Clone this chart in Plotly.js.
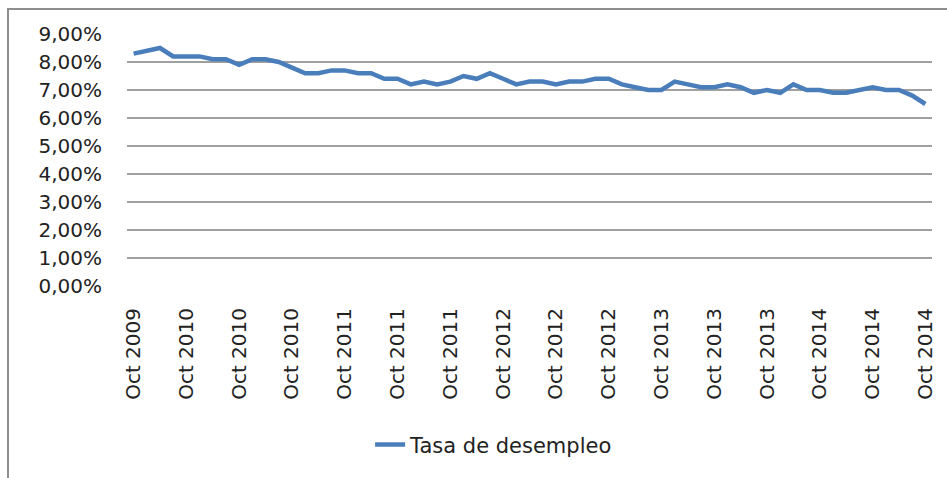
<!DOCTYPE html>
<html>
<head>
<meta charset="utf-8">
<script src="https://cdn.plot.ly/plotly-3.0.1.min.js"></script>
<style>
  html, body { margin: 0; padding: 0; background: #fff; overflow: hidden; }
  #chart { position: absolute; left: 0; top: 0; width: 947px; height: 478px; }
  #frame { position: absolute; left: 7px; top: 8px; width: 1000px; height: 600px;
           border: 2px solid #8e8e8e; pointer-events: none; z-index: 10; }
</style>
</head>
<body>
<div id="chart"></div>
<div id="frame"></div>
<script>
// Unemployment rate (%), monthly, 61 points
const seriesName = "Tasa de desempleo";
const values = [
  8.3, 8.4, 8.5, 8.2, 8.2, 8.2, 8.1, 8.1, 7.9, 8.1, 8.1, 8.0, 7.8, 7.6, 7.6,
  7.7, 7.7, 7.6, 7.6, 7.4, 7.4, 7.2, 7.3, 7.2, 7.3, 7.5, 7.4, 7.6, 7.4, 7.2,
  7.3, 7.3, 7.2, 7.3, 7.3, 7.4, 7.4, 7.2, 7.1, 7.0, 7.0, 7.3, 7.2, 7.1, 7.1, 7.2,
  7.1, 6.9, 7.0, 6.9, 7.2, 7.0, 7.0, 6.9, 6.9, 7.0, 7.1, 7.0, 7.0, 6.8, 6.5
];
const tickLabels = [
  "Oct 2009", "Oct 2010", "Oct 2010", "Oct 2010", "Oct 2011", "Oct 2011",
  "Oct 2011", "Oct 2012", "Oct 2012", "Oct 2012", "Oct 2013", "Oct 2013",
  "Oct 2013", "Oct 2014", "Oct 2014", "Oct 2014"
];
const tickStep = 4;
const yTicks = [0, 1, 2, 3, 4, 5, 6, 7, 8, 9];

const xs = values.map((v, i) => i);
const tickVals = tickLabels.map((t, i) => i * tickStep);
const yTickText = yTicks.map(v => v.toFixed(2).replace(".", ",") + "%");

const font = { family: "DejaVu Sans, Verdana, sans-serif", size: 20, color: "#222" };
const legendFont = { family: "DejaVu Sans, Verdana, sans-serif", size: 21, color: "#222" };

Plotly.newPlot("chart", [{
  type: "scatter",
  mode: "lines",
  name: seriesName,
  x: xs,
  y: values,
  line: { color: "#4a7ebb", width: 4.5 },
  showlegend: true
}], {
  width: 947,
  height: 478,
  paper_bgcolor: "#fff",
  plot_bgcolor: "#fff",
  font: font,
  margin: { l: 127, r: 15, t: 34, b: 192 },
  xaxis: {
    range: [-0.5, values.length - 0.5],
    tickvals: tickVals,
    ticktext: tickLabels,
    tickangle: -90,
    showgrid: false,
    zeroline: false,
    showline: false,
    ticks: "",
    ticklabelstandoff: 17,
    tickfont: font,
    fixedrange: true
  },
  yaxis: {
    range: [0, 9],
    tickvals: yTicks,
    ticktext: yTickText,
    showgrid: true,
    gridcolor: "#a0a0a0",
    gridwidth: 1.2,
    zeroline: false,
    showline: false,
    ticks: "",
    ticklabelstandoff: 24,
    tickfont: font,
    fixedrange: true
  },
  showlegend: true,
  legend: {
    orientation: "h",
    x: 0.302,
    xanchor: "left",
    y: -0.63,
    yanchor: "middle",
    font: legendFont,
    bgcolor: "rgba(0,0,0,0)"
  }
}, { displayModeBar: false, staticPlot: true });
</script>
</body>
</html>
